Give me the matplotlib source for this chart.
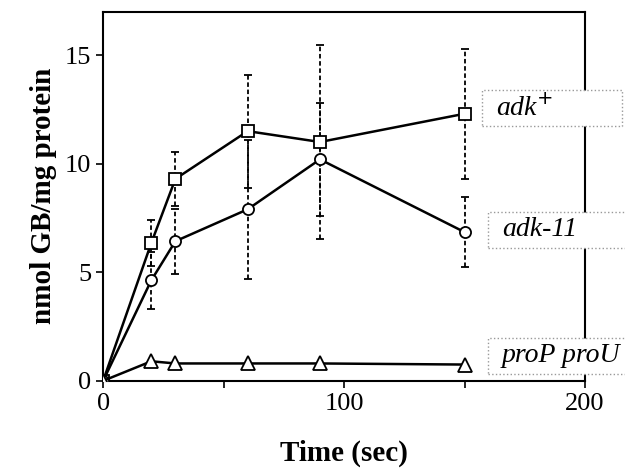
import numpy as np
import matplotlib
matplotlib.use("Agg")
import matplotlib.pyplot as plt
from matplotlib.patches import Rectangle

plt.rcParams['font.family'] = ['Liberation Serif', 'DejaVu Serif']

time_sec = [0, 20, 30, 60, 90, 150]

adk_plus = [0, 6.35, 9.3, 11.5, 11.0, 12.3]
adk_plus_err = [0, 1.05, 1.25, 2.6, 4.45, 3.0]

adk_11 = [0, 4.63, 6.43, 7.9, 10.2, 6.85]
adk_11_err = [0, 1.3, 1.5, 3.2, 2.6, 1.6]

prop_prou = [0, 0.9, 0.8, 0.8, 0.8, 0.75]

series_labels = ["adk$^{+}$", "adk-11", "proP proU"]
label_y = [12.55, 6.95, 1.15]

W, H = 625, 469
fig = plt.figure(figsize=(6.25, 4.69), dpi=100)
ax = fig.add_axes([0.165, 0.188, 0.771, 0.787])

# error bars first (dotted, with caps), then the lines on top
for y, e in [(adk_plus, adk_plus_err), (adk_11, adk_11_err)]:
    eb = ax.errorbar(time_sec[1:], y[1:], yerr=e[1:], fmt='none', ecolor='black',
                     elinewidth=1.3, capsize=3, capthick=1.3, zorder=2)
    eb[2][0].set_linestyle((0, (2.5, 1.5)))

mk = dict(color='black', lw=1.8, mfc='white', mec='black', mew=1.3, zorder=3)
ax.plot(time_sec, adk_plus, marker='s', ms=8, **mk)
ax.plot(time_sec, adk_11, marker='o', ms=8, **mk)
ax.plot(time_sec, prop_prou, marker='^', ms=9.5, **mk)

ax.set_xlim(0, 200)
ax.set_ylim(0, 17)
ax.set_xticks([0, 100, 200])
ax.set_xticks([50, 150], minor=True)
ax.set_yticks([0, 5, 10, 15])
ax.tick_params(axis='both', which='major', labelsize=19, length=5, width=1.2,
               direction='out', colors='black')
ax.tick_params(axis='x', which='minor', length=5, width=1.2, direction='out')
for s in ax.spines.values():
    s.set_linewidth(1.5)

ax.set_xlabel("Time (sec)", fontsize=21, fontweight='bold', labelpad=18)
ax.set_ylabel("nmol GB/mg protein", fontsize=21, fontweight='bold', labelpad=6)

# boxed series labels at the right edge (fixed-width boxes, pixel layout)
box_left = [482, 488, 488]
for txt, yv, bl in zip(series_labels, label_y, box_left):
    yc = ax.transData.transform((0, yv))[1] / H
    fig.add_artist(Rectangle((bl / W, yc - 18 / H), 140 / W, 36 / H,
                             transform=fig.transFigure, fc='white', ec='#999999',
                             ls=':', lw=1.0, zorder=5))
    fig.text((bl + 14) / W, yc, txt, fontsize=20, style='italic',
             va='center', ha='left', zorder=6)

fig.savefig("out.png", dpi=100)
